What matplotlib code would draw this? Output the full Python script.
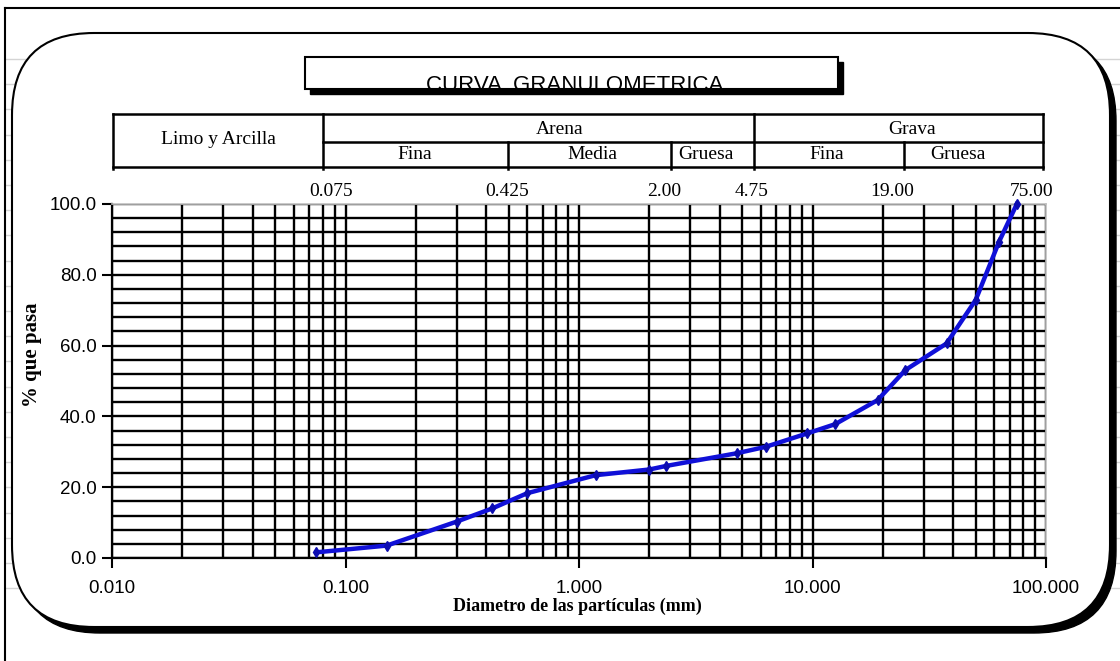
import numpy as np
import matplotlib
matplotlib.use("Agg")
import matplotlib.pyplot as plt
import matplotlib.transforms as mtransforms
from matplotlib.patches import FancyBboxPatch, Rectangle
from matplotlib.lines import Line2D
from matplotlib.ticker import FixedLocator, FormatStrFormatter, LogLocator, NullFormatter, MultipleLocator

# datos de la curva granulometrica
sieve_mm = [0.075, 0.15, 0.3, 0.425, 0.6, 1.18, 2.0, 2.36, 4.75, 6.3,
            9.5, 12.5, 19.0, 25.0, 37.5, 50.0, 63.0, 75.0]
pct_pass = [1.6, 3.5, 10.3, 14.0, 18.3, 23.4, 25.0, 26.0, 29.6, 31.4,
            35.2, 37.8, 44.6, 53.1, 60.6, 72.9, 89.4, 100.0]

top_sizes = [0.075, 0.425, 2.0, 4.75, 19.0, 75.0]
top_labels = ["0.075", "0.425", "2.00", "4.75", "19.00", "75.00"]

y_ticks = [0, 20, 40, 60, 80, 100]
x_ticks = [0.01, 0.1, 1, 10, 100]

W, H = 1120, 661
SERIF = "Liberation Serif"
SANS = "Liberation Sans"

fig = plt.figure(figsize=(W / 100, H / 100), dpi=100)
# pixel coords from top-left
px = mtransforms.Affine2D().scale(1.0 / W, -1.0 / H).translate(0, 1) + fig.transFigure

# faint spreadsheet lines behind
for k in range(22):
    yy = 59 + 25.2 * k
    fig.add_artist(Line2D([5, W], [yy, yy], transform=px, color="#d4d4d4", lw=1, zorder=0))

# outer frame (left and top only visible)
fig.add_artist(Line2D([5, 5], [8, H], transform=px, color="black", lw=1.5, zorder=1))
fig.add_artist(Line2D([5, W], [8, 8], transform=px, color="black", lw=1.5, zorder=1))

# rounded chart area with shadow
bx, by, bw, bh = 12, 33, 1098, 594
shadow = FancyBboxPatch((bx + 6, by + 6), bw, bh, boxstyle="round,pad=0,rounding_size=82",
                        transform=px, facecolor="black", edgecolor="black", lw=1, zorder=2)
fig.add_artist(shadow)
box = FancyBboxPatch((bx, by), bw, bh, boxstyle="round,pad=0,rounding_size=82",
                     transform=px, facecolor="white", edgecolor="black", lw=1.5, zorder=3)
fig.add_artist(box)

# title box
fig.add_artist(Rectangle((310, 62), 533, 32, transform=px, facecolor="black", edgecolor="black", zorder=4))
fig.add_artist(Rectangle((305, 57), 533, 32, transform=px, facecolor="white", edgecolor="black", lw=1.5, zorder=5))
fig.text(575 / W, 1 - 91 / H, "CURVA  GRANULOMETRICA", family=SANS, fontsize=16,
         ha="center", va="baseline", zorder=6)

# header table
t_top, t_mid, t_bot = 114, 141.5, 166.5
tl = []
tl.append(([113, 1043], [t_top, t_top]))
tl.append(([323, 1043], [t_mid, t_mid]))
tl.append(([113, 1043], [t_bot, t_bot]))
for xv in [113, 323, 754, 1043]:
    tl.append(([xv, xv], [t_top, t_bot + 2]))
for xv in [508, 671, 904]:
    tl.append(([xv, xv], [t_mid, t_bot + 2]))
for xs, ys in tl:
    fig.add_artist(Line2D(xs, ys, transform=px, color="black", lw=1.8, zorder=6))

cells = [("Limo y Arcilla", 218, 140), ("Arena", 560, 129), ("Grava", 912, 129),
         ("Fina", 415, 154), ("Media", 592, 154), ("Gruesa", 706, 154),
         ("Fina", 827, 154), ("Gruesa", 958, 154)]
for txt, cx, cy in cells:
    fig.text(cx / W, 1 - cy / H, txt, family=SERIF, fontsize=14, ha="center", va="center", zorder=7)

# main axes
ax = fig.add_axes([112 / W, 1 - 558 / H, (1046 - 112) / W, (558 - 204) / H], zorder=10)
ax.patch.set_alpha(0)
ax.set_xscale("log")
ax.set_xlim(0.01, 100)
ax.set_ylim(0, 100)

ax.xaxis.set_major_locator(FixedLocator(x_ticks))
ax.xaxis.set_major_formatter(FormatStrFormatter("%.3f"))
ax.xaxis.set_minor_locator(LogLocator(base=10, subs=np.arange(2, 10)))
ax.xaxis.set_minor_formatter(NullFormatter())
ax.yaxis.set_major_locator(FixedLocator(y_ticks))
ax.yaxis.set_major_formatter(FormatStrFormatter("%.1f"))
ax.yaxis.set_minor_locator(MultipleLocator(4))

ax.grid(True, which="both", axis="both", color="black", lw=1.7)
ax.set_axisbelow(True)
ax.tick_params(which="major", direction="out", length=7, width=1.5, color="black", labelsize=13.5)
ax.tick_params(which="minor", length=0)
ax.tick_params(axis="x", pad=9)
ax.tick_params(axis="y", pad=4)
for lab in ax.get_xticklabels() + ax.get_yticklabels():
    lab.set_family(SANS)

for s in ["top", "right"]:
    ax.spines[s].set_color("#c0c0c0")
    ax.spines[s].set_linewidth(1.2)
for s in ["left", "bottom"]:
    ax.spines[s].set_color("black")
    ax.spines[s].set_linewidth(1.6)

ax.plot(sieve_mm, pct_pass, color="#1010d8", lw=3.2, marker="d", markersize=5,
        markerfacecolor="#0c0cb0", markeredgecolor="#0c0cb0", zorder=5, clip_on=False)

trans = mtransforms.blended_transform_factory(ax.transData, ax.transAxes)
for xv, lab in zip(top_sizes, top_labels):
    ax.annotate(lab, xy=(xv, 1), xycoords=trans, xytext=(15, 12), textcoords="offset pixels",
                ha="center", va="center", family=SERIF, fontsize=14, annotation_clip=False)

fig.text(577 / W, 1 - 606 / H, "Diametro de las partículas (mm)", family=SERIF, fontsize=13,
         fontweight="bold", ha="center", va="center", zorder=11)
fig.text(32 / W, 1 - 355 / H, "% que pasa", family=SERIF, fontsize=15, fontweight="bold",
         rotation=90, ha="center", va="center", zorder=11)

fig.savefig("out.png", dpi=100)
